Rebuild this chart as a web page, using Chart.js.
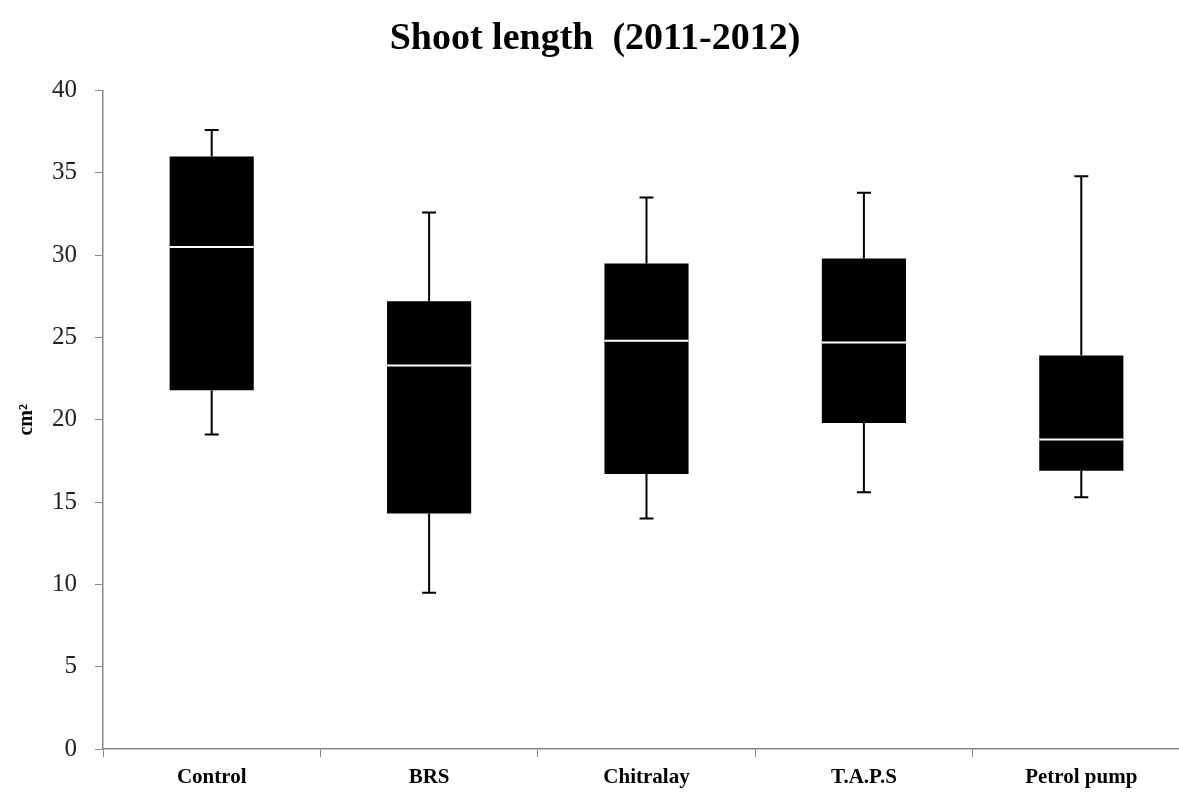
<!DOCTYPE html>
<html>
<head>
<meta charset="utf-8">
<script src="https://cdn.jsdelivr.net/npm/chart.js@4.4.1/dist/chart.umd.min.js"></script>
<style>
html,body{margin:0;padding:0;background:#fff;overflow:hidden}
#wrap{width:1190px;height:798px}
</style>
</head>
<body>
<div id="wrap"><canvas id="boxChart" width="1190" height="798"></canvas></div>
<script>
const sites=["Control","BRS","Chitralay","T.A.P.S","Petrol pump"];
const whiskerLow=[19.1,9.5,14.0,15.6,15.3];
const q1=[21.8,14.3,16.7,19.8,16.9];
const median=[30.5,23.3,24.8,24.7,18.8];
const q3=[36.0,27.2,29.5,29.8,23.9];
const whiskerHigh=[37.6,32.6,33.5,33.8,34.8];
const yTicks=[0,5,10,15,20,25,30,35,40];

const SERIF="'Liberation Serif','Times New Roman',serif";

/* ===== WHISKERS + MEDIAN ===== */
const boxExtras={
  id:"boxExtras",
  afterDatasetsDraw(c){
    const ctx=c.ctx,x=c.scales.x,y=c.scales.y;
    const meta=c.getDatasetMeta(0);
    ctx.save();
    sites.forEach((s,i)=>{
      const cx=x.getPixelForValue(i);
      const bw=meta.data[i].width;
      // whiskers
      ctx.strokeStyle="#000";ctx.lineWidth=2;
      ctx.beginPath();
      ctx.moveTo(cx,y.getPixelForValue(q3[i]));ctx.lineTo(cx,y.getPixelForValue(whiskerHigh[i]));
      ctx.moveTo(cx,y.getPixelForValue(q1[i]));ctx.lineTo(cx,y.getPixelForValue(whiskerLow[i]));
      ctx.moveTo(cx-7,y.getPixelForValue(whiskerHigh[i]));ctx.lineTo(cx+7,y.getPixelForValue(whiskerHigh[i]));
      ctx.moveTo(cx-7,y.getPixelForValue(whiskerLow[i]));ctx.lineTo(cx+7,y.getPixelForValue(whiskerLow[i]));
      ctx.stroke();
      // median
      ctx.strokeStyle="#fff";ctx.lineWidth=2;
      ctx.beginPath();
      ctx.moveTo(cx-bw/2,y.getPixelForValue(median[i]));
      ctx.lineTo(cx+bw/2,y.getPixelForValue(median[i]));
      ctx.stroke();
    });
    ctx.restore();
  }
};

new Chart(document.getElementById("boxChart"),{
  type:"bar",
  data:{
    labels:sites,
    datasets:[{
      data:sites.map((s,i)=>[q1[i],q3[i]]),
      backgroundColor:"#000",
      borderWidth:0,
      categoryPercentage:1,
      barPercentage:0.387
    }]
  },
  options:{
    responsive:false,
    animation:false,
    devicePixelRatio:1,
    layout:{padding:{left:0,right:0,top:0,bottom:0}},
    plugins:{
      legend:{display:false},
      tooltip:{enabled:false},
      title:{
        display:true,
        text:"Shoot length  (2011-2012)",
        color:"#000",
        font:{family:SERIF,size:38,weight:"bold"},
        padding:{top:16,bottom:29}
      }
    },
    scales:{
      x:{
        offset:true,
        grid:{display:true,drawOnChartArea:false,offset:true,color:"#888",tickLength:8},
        border:{display:true,color:"#888",width:1.5},
        ticks:{color:"#000",padding:8,font:{family:SERIF,size:21,weight:"bold"}},
        afterFit(s){s.height=49;}
      },
      y:{
        min:0,max:40,
        afterBuildTicks(s){s.ticks=yTicks.map(v=>({value:v}));},
        grid:{display:true,drawOnChartArea:false,color:"#888",tickLength:8},
        border:{display:true,color:"#888",width:1.5},
        ticks:{color:"#222",padding:18,font:{family:SERIF,size:25}},
        title:{display:true,text:"cm²",color:"#000",padding:{top:15,bottom:0},font:{family:SERIF,size:20,weight:"bold"}},
        afterFit(s){s.width=103;}
      }
    }
  },
  plugins:[boxExtras]
});
</script>
</body>
</html>
